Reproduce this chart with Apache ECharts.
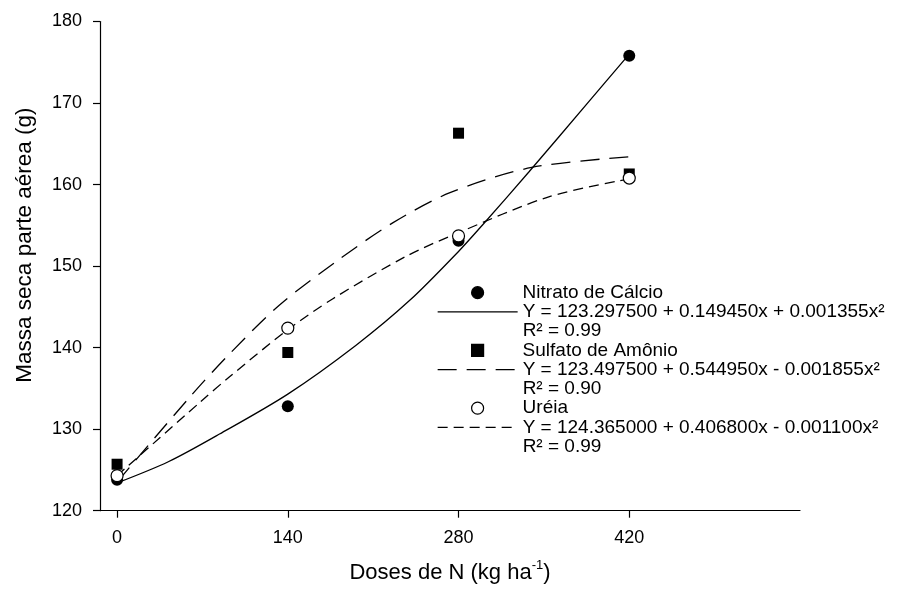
<!DOCTYPE html>
<html><head><meta charset="utf-8">
<script src="https://cdn.jsdelivr.net/npm/echarts@6/dist/echarts.min.js"></script>
<style>html,body{margin:0;padding:0;background:#fff}#c{width:910px;height:596px}</style>
</head><body><div id="c"></div>
<script>
// ---- data ----
const doses = [0, 140, 280, 420];
const xTickValues = [0, 140, 280, 420];
const nitratoObs = [123.8, 132.8, 153.1, 175.8];
const sulfatoObs = [125.7, 139.4, 166.3, 161.3];
const ureiaObs = [124.3, 142.4, 153.7, 160.8];

const nitratoFitX = [0, 42, 84, 140, 196, 240, 280, 300, 338, 387, 420];
const nitratoFitY = [123.4, 126.0, 129.4, 134.3, 140.3, 145.8, 151.8, 155.1, 161.6, 170.2, 176.0];
const sulfatoFitX = [0, 60, 92, 133, 180, 226, 273, 340, 420];
const sulfatoFitY = [123.5, 134.0, 139.2, 145.2, 150.6, 155.3, 159.0, 162.1, 163.4];
const ureiaFitX = [0, 68, 92, 140, 177, 237, 280, 354, 420];
const ureiaFitY = [124.3, 133.3, 136.4, 142.2, 146.0, 151.2, 154.1, 158.5, 160.7];

const treatmentNames = ['Nitrato de Cálcio', 'Sulfato de Amônio', 'Uréia'];
const equations = [
  'Y = 123.297500 + 0.149450x + 0.001355x²',
  'Y = 123.497500 + 0.544950x - 0.001855x²',
  'Y = 124.365000 + 0.406800x - 0.001100x²'
];
const r2Labels = ['R² = 0.99', 'R² = 0.90', 'R² = 0.99'];
const xAxisTitle = 'Doses de N (kg ha{sup|-1})';
const yAxisTitle = 'Massa seca parte aérea (g)';

// ---- chart ----
const FONT = 'Arial, "Liberation Sans", sans-serif';
const zip = (xs, ys) => xs.map((x, i) => [x, ys[i]]);
const lineTypes = ['solid', [19, 10], [10, 6]];
const fitX = [nitratoFitX, sulfatoFitX, ureiaFitX];
const fitY = [nitratoFitY, sulfatoFitY, ureiaFitY];
const obs = [nitratoObs, sulfatoObs, ureiaObs];
const symbols = ['circle', 'rect', 'circle'];
const symbolSizes = [12, 11, 12];
const fills = ['#000', '#000', '#fff'];

const series = [];
for (let i = 0; i < 3; i++) {
  series.push({
    name: equations[i], type: 'line', smooth: 0.3, symbol: 'none',
    data: zip(fitX[i], fitY[i]), z: 2,
    itemStyle: { color: '#000' },
    lineStyle: { color: '#000', width: 1.3, type: lineTypes[i] }
  });
}
for (let i = 0; i < 3; i++) {
  series.push({
    name: treatmentNames[i], type: 'scatter', symbol: symbols[i], symbolSize: symbolSizes[i],
    symbolKeepAspect: true,
    data: zip(doses, obs[i]), z: 3 + i,
    itemStyle: { color: fills[i], borderColor: '#000', borderWidth: i === 2 ? 1.2 : 0, opacity: 1 }
  });
}

const chart = echarts.init(document.getElementById('c'), null, { renderer: 'canvas' });
chart.setOption({
  animation: false,
  backgroundColor: '#fff',
  grid: { left: 100, right: 110, top: 21.5, bottom: 85.3, containLabel: false },
  xAxis: {
    type: 'value', min: -14, max: 560,
    name: xAxisTitle, nameLocation: 'middle', nameGap: 48,
    nameTextStyle: { fontFamily: FONT, fontSize: 22, color: '#000', lineHeight: 28,
      rich: { sup: { fontFamily: FONT, fontSize: 13, lineHeight: 13, verticalAlign: 'top', color: '#000' } } },
    axisLine: { onZero: false, lineStyle: { color: '#000', width: 1.2 } },
    axisTick: { show: true, length: 7, inside: false, lineStyle: { color: '#000', width: 1.2 }, customValues: xTickValues },
    axisLabel: { fontFamily: FONT, fontSize: 18, color: '#000', margin: 18, customValues: xTickValues },
    splitLine: { show: false }
  },
  yAxis: {
    type: 'value', min: 120, max: 180, interval: 10,
    name: yAxisTitle, nameLocation: 'middle', nameGap: 64,
    nameTextStyle: { fontFamily: FONT, fontSize: 22.5, color: '#000', padding: [0, 0, 0, 42] },
    axisLine: { show: true, onZero: false, lineStyle: { color: '#000', width: 1.2 } },
    axisTick: { show: true, length: 7, inside: false, lineStyle: { color: '#000', width: 1.2 } },
    axisLabel: { fontFamily: FONT, fontSize: 18, color: '#000', margin: 18 },
    splitLine: { show: false }
  },
  legend: [
    {
      data: treatmentNames, orient: 'vertical', left: 471, top: 283, padding: 0,
      itemWidth: 12, itemHeight: 12, itemGap: 38.5,
      itemStyle: { borderWidth: 1.2, borderColor: '#000' },
      textStyle: { fontFamily: FONT, fontSize: 19, color: '#000', lineHeight: 19.25, padding: [0, 0, 0, 34] },
      selectedMode: false
    },
    {
      data: equations, orient: 'vertical', left: 437, top: 283, padding: 0,
      itemWidth: 80, itemHeight: 12, itemGap: 0,
      itemStyle: { opacity: 0 },
      lineStyle: { color: '#000', width: 1.3 },
      formatter: name => ' \n' + name + '\n' + r2Labels[equations.indexOf(name)],
      textStyle: { fontFamily: FONT, fontSize: 19, color: '#000', lineHeight: 19.25 },
      selectedMode: false
    }
  ],
  series: series
});
</script></body></html>
